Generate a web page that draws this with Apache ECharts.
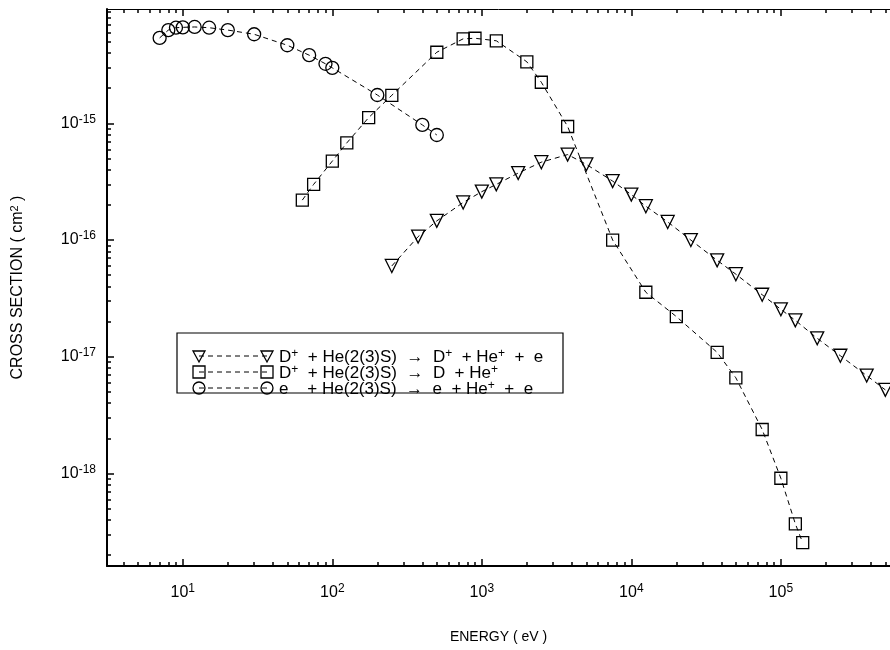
<!DOCTYPE html>
<html>
<head>
<meta charset="utf-8">
<script src="https://cdn.jsdelivr.net/npm/echarts@6/dist/echarts.min.js"></script>
<style>
  html, body { margin: 0; padding: 0; background: #fff; }
  #main { width: 890px; height: 650px; }
</style>
</head>
<body>
<div id="main"></div>
<script>
// D+ + He(2(3)S) -> D+ + He+ + e  (triangles)
var ionE = [250, 375, 500, 750, 1000, 1250, 1750, 2500, 3750, 5000, 7500, 10000, 12500,
    17500, 25000, 37500, 50000, 75000, 100000, 125000, 175000, 250000, 375000, 500000];
var ionS = [6.0e-17, 1.07e-16, 1.46e-16, 2.1e-16, 2.6e-16, 3.0e-16, 3.75e-16, 4.65e-16, 5.4e-16,
    4.45e-16, 3.2e-16, 2.45e-16, 1.95e-16, 1.43e-16, 1.0e-16, 6.7e-17, 5.1e-17, 3.4e-17,
    2.55e-17, 2.05e-17, 1.44e-17, 1.02e-17, 6.9e-18, 5.2e-18];

// D+ + He(2(3)S) -> D + He+  (squares)
var cxE = [63, 75, 100, 125, 175, 250, 500, 750, 900, 1250, 2000, 2500, 3750, 7500, 12500,
    20000, 37500, 50000, 75000, 100000, 125000, 140000];
var cxS = [2.2e-16, 3.0e-16, 4.75e-16, 6.8e-16, 1.12e-15, 1.74e-15, 4.07e-15, 5.3e-15, 5.36e-15,
    5.1e-15, 3.37e-15, 2.25e-15, 9.4e-16, 1.0e-16, 3.57e-17, 2.21e-17, 1.09e-17, 6.6e-18,
    2.38e-18, 9.1e-19, 3.7e-19, 2.55e-19];

// e + He(2(3)S) -> e + He+ + e  (circles)
var elE = [7, 8, 9, 10, 12, 15, 20, 30, 50, 70, 90, 100, 200, 400, 500];
var elS = [5.4e-15, 6.3e-15, 6.6e-15, 6.65e-15, 6.7e-15, 6.6e-15, 6.3e-15, 5.8e-15, 4.67e-15,
    3.84e-15, 3.24e-15, 2.99e-15, 1.75e-15, 9.7e-16, 7.95e-16];

// decade labels (log10)
var xDecades = [1, 2, 3, 4, 5];
var yDecades = [-18, -17, -16, -15];
var xRange = [0.493, 5.73];
var yRange = [-18.793, -14.02];

var FAM = "'Liberation Sans', Arial, Helvetica, sans-serif";

function minors(lo, hi) {
    var out = [];
    for (var d = Math.floor(lo); d <= Math.ceil(hi); d++) {
        for (var k = 2; k <= 9; k++) {
            var v = d + Math.log10(k);
            if (v > lo && v < hi) out.push(v);
        }
    }
    return out;
}

function pts(es, ss) {
    return es.map(function (e, i) { return [Math.log10(e), Math.log10(ss[i])]; });
}

// rich styles: base text + superscript
function richSet(base, sup, lh, slh) {
    return {
        b: { fontSize: base, fontFamily: FAM, font: base + 'px ' + FAM, color: '#000', lineHeight: lh, verticalAlign: 'middle' },
        s: { fontSize: sup, fontFamily: FAM, font: sup + 'px ' + FAM, color: '#000', lineHeight: slh, verticalAlign: 'top' }
    };
}
var tickRich = richSet(16, 12, 20, 10);
var legRich = richSet(17, 12, 18, 4);

function decadeLabel(v) {
    return '{b|10}{s|' + Math.round(v) + '}';
}

function axisPair(pos, range, majors, lineW, labels, extra) {
    var main = Object.assign({
        type: 'value', position: pos, min: range[0], max: range[1],
        axisLine: { show: true, onZero: false, lineStyle: { color: '#000', width: lineW } },
        axisTick: { show: true, inside: true, length: 7, customValues: majors, lineStyle: { color: '#000', width: 1.5 } },
        axisLabel: labels ? { show: true, customValues: majors, formatter: decadeLabel, rich: tickRich, margin: labels.margin } : { show: false },
        splitLine: { show: false }
    }, extra || {});
    var minor = {
        type: 'value', position: pos, min: range[0], max: range[1],
        axisLine: { show: false, onZero: false },
        axisTick: { show: true, inside: true, length: 4, customValues: minors(range[0], range[1]), lineStyle: { color: '#000', width: 1.5 } },
        axisLabel: { show: false },
        splitLine: { show: false }
    };
    return [main, minor];
}

var xAxes = axisPair('bottom', xRange, xDecades, 2, { margin: 17 }, {
    name: 'ENERGY ( eV )', nameLocation: 'middle', nameGap: 64,
    nameTextStyle: { fontSize: 14, fontFamily: FAM, color: '#000' }
}).concat(axisPair('top', xRange, xDecades, 1, null));

var yAxes = axisPair('left', yRange, yDecades, 2, { margin: 11 }, {
    name: '{t|CROSS SECTION ( cm}{s|2}{t| )}', nameLocation: 'middle', nameGap: 80,
    nameTextStyle: {
        fontSize: 16, fontFamily: FAM, color: '#000',
        rich: {
            t: { fontSize: 16, fontFamily: FAM, color: '#000', lineHeight: 18, verticalAlign: 'middle' },
            s: { fontSize: 11, fontFamily: FAM, color: '#000', lineHeight: 9, verticalAlign: 'top' }
        }
    }
});

function mkSeries(name, data, symbol, size, rotate) {
    return {
        name: name, type: 'line', data: data,
        xAxisIndex: 0, yAxisIndex: 0,
        symbol: symbol, symbolSize: size, symbolRotate: rotate || 0,
        showAllSymbol: true, clip: true, animation: false,
        lineStyle: { color: '#000', width: 1, type: [5, 4] },
        itemStyle: { color: 'rgba(255,255,255,0)', borderColor: '#000', borderWidth: 1.3 }
    };
}

var legendRows = [
    { text: '{b|D}{s|+}{b|  + He(2(3)S)  \u2192  D}{s|+}{b|  + He}{s|+}{b|  +  e}', mark: 'tri' },
    { text: '{b|D}{s|+}{b|  + He(2(3)S)  \u2192  D  + He}{s|+}', mark: 'sq' },
    { text: '{b|e    + He(2(3)S)  \u2192  e  + He}{s|+}{b|  +  e}', mark: 'circ' }
];

function marker(kind, x, y) {
    var st = { fill: 'rgba(255,255,255,0)', stroke: '#000', lineWidth: 1.3 };
    if (kind === 'tri') return { type: 'polygon', shape: { points: [[x - 6, y - 5], [x + 6, y - 5], [x, y + 6]] }, style: st, z: 101 };
    if (kind === 'sq') return { type: 'rect', shape: { x: x - 6, y: y - 6, width: 12, height: 12 }, style: st, z: 101 };
    return { type: 'circle', shape: { cx: x, cy: y, r: 6 }, style: st, z: 101 };
}

var graphics = [{
    type: 'rect', shape: { x: 177, y: 333, width: 386, height: 60 },
    style: { fill: '#fff', stroke: '#000', lineWidth: 1.2 }, z: 100
}];
legendRows.forEach(function (r, i) {
    var y = 356 + 16 * i;
    graphics.push({ type: 'line', shape: { x1: 199, y1: y, x2: 267, y2: y }, style: { stroke: '#000', lineWidth: 1, lineDash: [5, 4] }, z: 101 });
    graphics.push(marker(r.mark, 199, y));
    graphics.push(marker(r.mark, 267, y));
    graphics.push({
        type: 'text', x: 279, y: y + 1, z: 101,
        style: { text: r.text, rich: legRich, font: '17px ' + FAM, verticalAlign: 'middle', align: 'left' }
    });
});

var chart = echarts.init(document.getElementById('main'), null, { renderer: 'canvas' });
chart.setOption({
    backgroundColor: '#fff',
    animation: false,
    grid: { left: 107, right: 0, top: 9, bottom: 84, containLabel: false },
    xAxis: xAxes,
    yAxis: yAxes,
    series: [
        mkSeries('ion', pts(ionE, ionS), 'triangle', 13, 180),
        mkSeries('cx', pts(cxE, cxS), 'rect', 12),
        mkSeries('el', pts(elE, elS), 'circle', 13)
    ],
    graphic: graphics
});
</script>
</body>
</html>
